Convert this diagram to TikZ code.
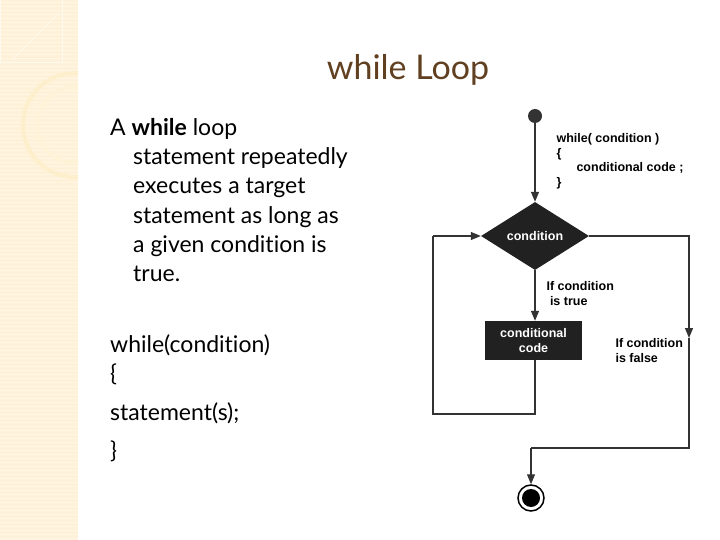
\documentclass[tikz,border=0pt]{standalone}
\usepackage{fontspec}
\setmainfont[Ligatures={NoCommon,NoRare}]{Lato}
\newfontfamily\arialf{Liberation Sans}
\usetikzlibrary{shapes.geometric,arrows.meta}
\begin{document}
\begin{tikzpicture}[x=1pt,y=-1pt,
  body/.style={anchor=base west,font=\fontsize{23}{23}\selectfont,inner sep=0},
  fc/.style={font=\arialf\bfseries\fontsize{12.5}{14.5}\selectfont},
  conn/.style={draw=black!80,line width=1.2pt},
  arr/.style={conn,-{Triangle[length=10pt,width=8pt]}}]
\useasboundingbox (0,0) rectangle (720,540);
\fill[white] (0,0) rectangle (720,540);
% decorative strip
\begin{scope}
\clip (0,0) rectangle (78,540);
\fill[yellow!30!orange!14] (0,0) rectangle (78,540);
\foreach \y in {2,6,...,538} \draw[white,opacity=0.4,line width=0.6pt] (0,\y) -- (78,\y);
\draw[white,opacity=0.6,line width=1pt] (0,0) rectangle (62,63);
\draw[yellow!40!orange!18,line width=4pt] (75,125) circle (52);
\draw[yellow!40!orange!14,line width=3pt] (75,125) circle (38);
\draw[white,opacity=0.6] (12,60) -- (60,12);
\end{scope}
% title
\node[font=\fontsize{34}{34}\selectfont,text=brown!50!black] (title) at (408,70) {while Loop};
% body text
\node[body] (t1) at (110,136) {A \textbf{while} loop};
\node[body] (t2) at (133,165) {statement repeatedly};
\node[body] (t3) at (133,194) {executes a target};
\node[body] (t4) at (133,223) {statement as long as};
\node[body] (t5) at (133,252) {a given condition is};
\node[body] (t6) at (133,281) {true.};
\node[body] (c1) at (110,352) {while(condition)};
\node[body] (c2) at (110,381) {\{};
\node[body] (c3) at (110,420) {statement(s);};
\node[body] (c4) at (110,458) {\}};
% flowchart
\node[circle,fill=black!80,minimum size=14pt,inner sep=0] (start) at (535,116) {};
\node[diamond,fill=black!87,minimum width=108pt,minimum height=68pt,inner sep=0,text=white,fc] (cond) at (535,236) {condition};
\node[fill=black!87,minimum width=97pt,minimum height=39pt,inner sep=0,text=white,fc,align=center] (code) at (533.5,340.5) {conditional\\code};
\node[circle,draw=black,line width=1.5pt,fill=white,minimum size=26pt,inner sep=0] (end) at (531,498) {};
\fill[black] (end.center) circle (9);
\coordinate (lb) at (535,414); \coordinate (ll) at (433,414); \coordinate (lt) at (433,236);
\coordinate (fr) at (689,236); \coordinate (fm) at (689,338); \coordinate (fb) at (689,448); \coordinate (fl) at (531,448);
\draw[arr] (start) -- (cond.north);
\draw[arr] (cond.south) -- (code.north -| cond.south);
\draw[conn] (code.south -| lb) -- (lb) -- (ll) -- (lt);
\draw[arr] (lt) -- (cond.west);
\draw[arr] (cond.east) -- (fr) -- (fm);
\draw[conn] (fm) -- (fb) -- (fl);
\draw[arr] (fl) -- (end.north);
\node[fc,anchor=north west,align=left] (wl) at (553,130) {while( condition )\\\{\\\hspace{1.6em}conditional code ;\\\}};
\node[fc,anchor=north west,align=left] (tr) at (543,278) {If condition\\\ is true};
\node[fc,anchor=north west,align=left] (fa) at (612,335) {If condition\\is false};
\end{tikzpicture}
\end{document}
